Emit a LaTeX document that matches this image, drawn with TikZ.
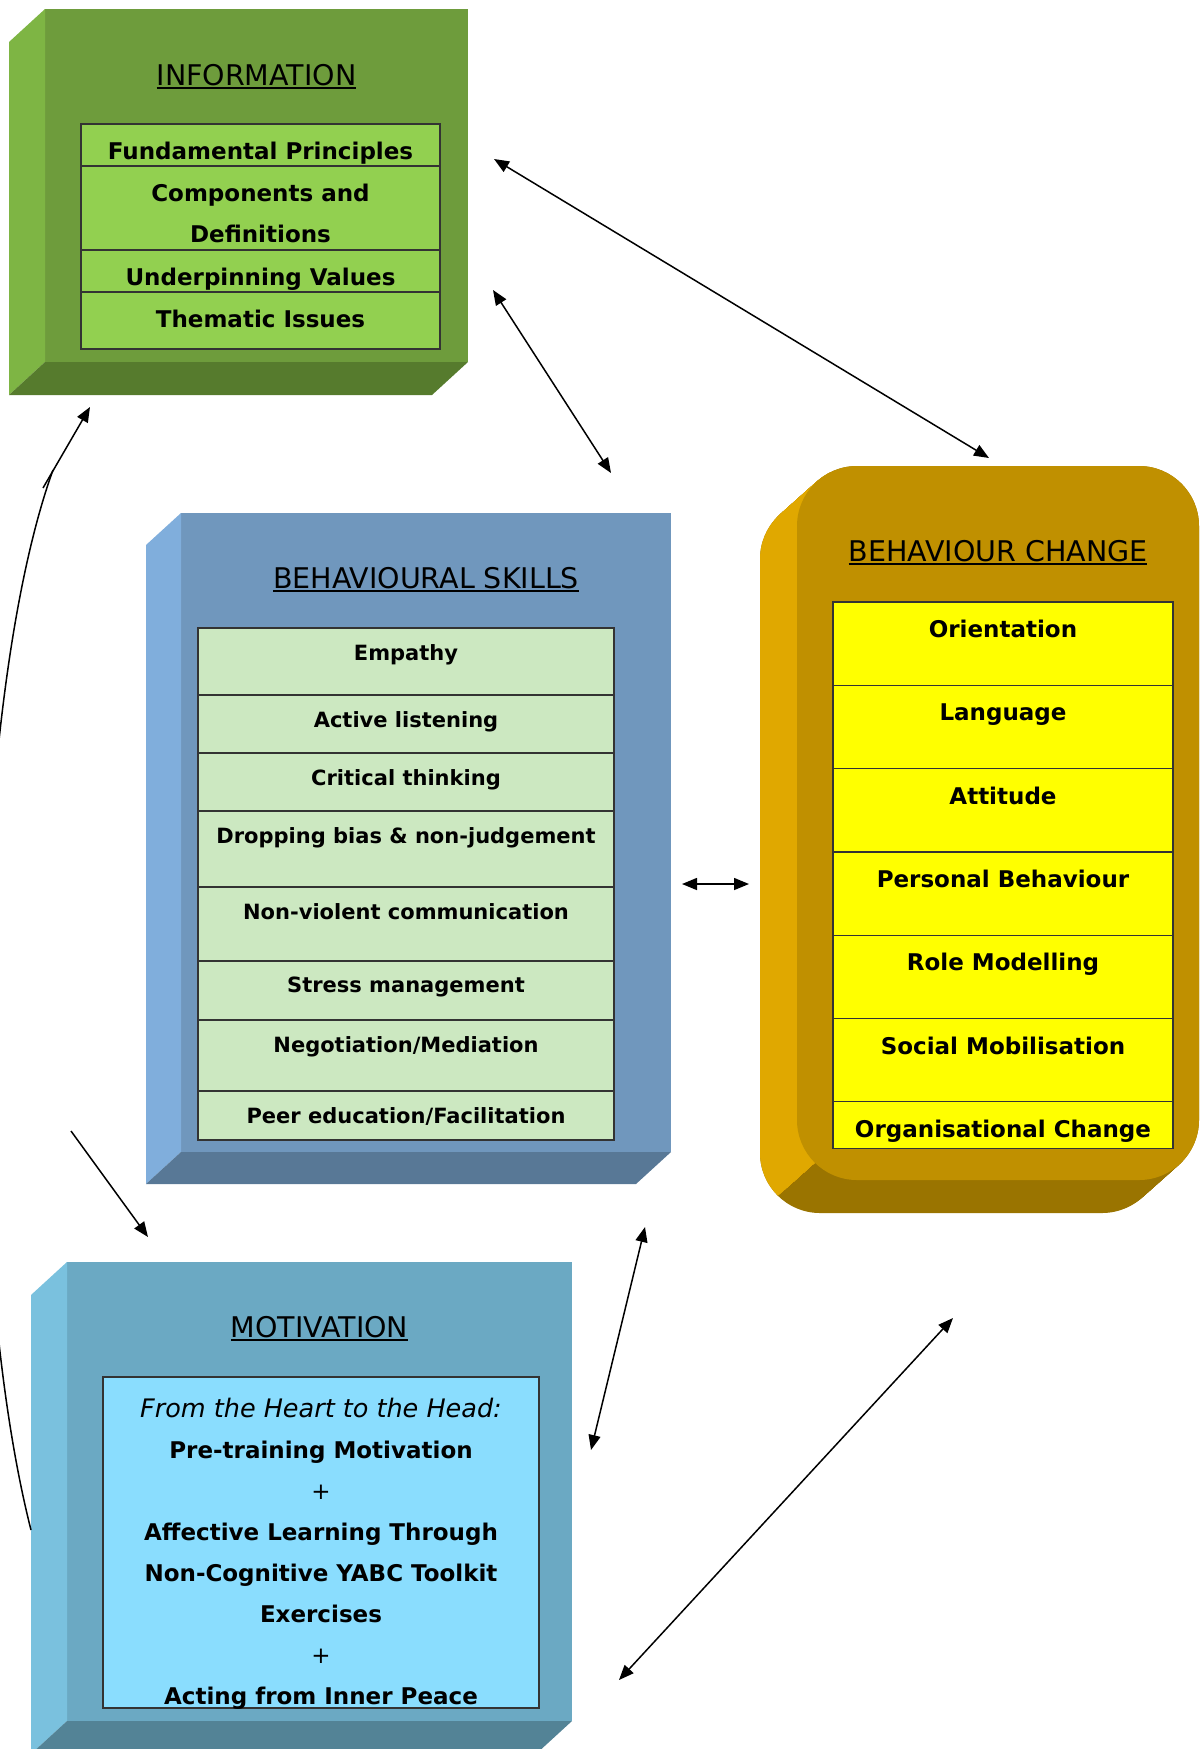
\documentclass[tikz,border=0pt]{standalone}
\usepackage{fontspec}
\setmainfont{DejaVu Sans}
\usetikzlibrary{arrows.meta,positioning,backgrounds}
\definecolor{infoFace}{HTML}{6E9C3C}
\definecolor{infoSide}{HTML}{7EB544}
\definecolor{infoBase}{HTML}{567B2D}
\definecolor{infoCell}{HTML}{92D050}
\definecolor{skillFace}{HTML}{7097BD}
\definecolor{skillSide}{HTML}{80AEDC}
\definecolor{skillBase}{HTML}{587896}
\definecolor{skillCell}{HTML}{CCE8C1}
\definecolor{changeFace}{HTML}{C09000}
\definecolor{changeSide}{HTML}{E0A800}
\definecolor{changeBase}{HTML}{9A7400}
\definecolor{changeCell}{HTML}{FFFF00}
\definecolor{motivFace}{HTML}{6BA9C3}
\definecolor{motivSide}{HTML}{7AC1DE}
\definecolor{motivBase}{HTML}{538396}
\definecolor{motivCell}{HTML}{8ADDFE}
\newsavebox{\headbox}
\newcommand{\ulhead}[1]{\sbox{\headbox}{#1}\usebox{\headbox}\llap{\rule[-4pt]{\wd\headbox}{1.8pt}}}

\begin{document}
\begin{tikzpicture}[
    x=1pt, y=-1pt,
    face/.style={inner sep=0pt, outer sep=0pt, anchor=north west},
    heading/.style={font=\fontsize{28.5}{32}\selectfont, inner sep=0pt, anchor=base},
    cell/.style={draw=black!80, line width=1.3pt, inner sep=0pt, outer sep=0pt, minimum width=#1},
    infotag/.style={anchor=north, inner sep=0pt, yshift=-18pt, align=center, font=\bfseries\fontsize{23}{41}\selectfont},
    skilltag/.style={anchor=north, inner sep=0pt, yshift=-16pt, align=center, font=\bfseries\fontsize{21}{24}\selectfont},
    motivtag/.style={anchor=north, inner sep=0pt, yshift=-21pt, align=center, font=\bfseries\fontsize{23}{41}\selectfont},
    link/.style={line width=1.5pt, {Triangle[length=15pt,width=12pt]}-{Triangle[length=15pt,width=12pt]}},
    pointer/.style={line width=1.5pt, -{Triangle[length=15pt,width=12pt]}},
    thread/.style={line width=1.5pt}
  ]
    \useasboundingbox (0,0) rectangle (1201,1749);

    % information block
    \node[face, fill=infoFace, minimum width=423pt, minimum height=353pt] (info) at (45,9) {};
    \fill[infoSide] (info.north west) -- ++(-36,33) -- ++(0,353) -- (info.south west) -- cycle;
    \fill[infoBase] (info.south west) -- ++(-36,33) -- ++(423,0) -- (info.south east) -- cycle;
    \node[heading] (infoHead) at (256.5,85) {\ulhead{INFORMATION}};
    \node[cell=359pt, fill=infoCell, minimum height=42pt, anchor=north west, label={[infotag]north:Fundamental Principles}] (info1) at (81,124) {};
    \node[cell=359pt, fill=infoCell, minimum height=84pt, below=0pt of info1, label={[infotag]north:Components and\\Definitions}] (info2) {};
    \node[cell=359pt, fill=infoCell, minimum height=42pt, below=0pt of info2, label={[infotag]north:Underpinning Values}] (info3) {};
    \node[cell=359pt, fill=infoCell, minimum height=57pt, below=0pt of info3, label={[infotag]north:Thematic Issues}] (info4) {};

    % behavioural skills block
    \node[face, fill=skillFace, minimum width=490pt, minimum height=639pt] (skill) at (181,513) {};
    \fill[skillSide] (skill.north west) -- ++(-35,32) -- ++(0,639) -- (skill.south west) -- cycle;
    \fill[skillBase] (skill.south west) -- ++(-35,32) -- ++(490,0) -- (skill.south east) -- cycle;
    \node[heading] (skillHead) at (426,588) {\ulhead{BEHAVIOURAL SKILLS}};
    \node[cell=416pt, fill=skillCell, minimum height=67pt, anchor=north west, label={[skilltag]north:Empathy}] (skill1) at (198,628) {};
    \node[cell=416pt, fill=skillCell, minimum height=58pt, below=0pt of skill1, label={[skilltag]north:Active listening}] (skill2) {};
    \node[cell=416pt, fill=skillCell, minimum height=58pt, below=0pt of skill2, label={[skilltag]north:Critical thinking}] (skill3) {};
    \node[cell=416pt, fill=skillCell, minimum height=76pt, below=0pt of skill3, label={[skilltag]north:Dropping bias \& non-judgement}] (skill4) {};
    \node[cell=416pt, fill=skillCell, minimum height=74pt, below=0pt of skill4, label={[skilltag]north:Non-violent communication}] (skill5) {};
    \node[cell=416pt, fill=skillCell, minimum height=59pt, below=0pt of skill5, label={[skilltag]north:Stress management}] (skill6) {};
    \node[cell=416pt, fill=skillCell, minimum height=71pt, below=0pt of skill6, label={[skilltag]north:Negotiation/Mediation}] (skill7) {};
    \node[cell=416pt, fill=skillCell, minimum height=49pt, below=0pt of skill7, label={[skilltag]north:Peer education/Facilitation}] (skill8) {};

    % behaviour change block
    \node[face, fill=changeFace, rounded corners=60pt, minimum width=402pt, minimum height=714pt] (chg) at (797,466) {};
    \begin{scope}[on background layer]
      \foreach \k in {0,...,37}
        \fill[changeBase, rounded corners=60pt] ([shift={(-\k,0.892*\k)}]chg.north west) rectangle ([shift={(-\k,0.892*\k)}]chg.south east);
      \begin{scope}
        \clip (600,400) -- (830,400) -- (830,1149) -- (600,1355) -- cycle;
        \foreach \k in {0,...,37}
          \fill[changeSide, rounded corners=60pt] ([shift={(-\k,0.892*\k)}]chg.north west) rectangle ([shift={(-\k,0.892*\k)}]chg.south east);
      \end{scope}
    \end{scope}
    \node[heading] (chgHead) at (998,561) {\ulhead{BEHAVIOUR CHANGE}};
    \node[cell=340pt, fill=changeCell, minimum height=83.3pt, anchor=north west, label={[infotag]north:Orientation}] (chg1) at (833,602) {};
    \node[cell=340pt, fill=changeCell, minimum height=83.3pt, below=0pt of chg1, label={[infotag]north:Language}] (chg2) {};
    \node[cell=340pt, fill=changeCell, minimum height=83.3pt, below=0pt of chg2, label={[infotag]north:Attitude}] (chg3) {};
    \node[cell=340pt, fill=changeCell, minimum height=83.3pt, below=0pt of chg3, label={[infotag]north:Personal Behaviour}] (chg4) {};
    \node[cell=340pt, fill=changeCell, minimum height=83.3pt, below=0pt of chg4, label={[infotag]north:Role Modelling}] (chg5) {};
    \node[cell=340pt, fill=changeCell, minimum height=83.3pt, below=0pt of chg5, label={[infotag]north:Social Mobilisation}] (chg6) {};
    \node[cell=340pt, fill=changeCell, minimum height=47pt, below=0pt of chg6, label={[infotag]north:Organisational Change}] (chg7) {};

    % motivation block
    \node[face, fill=motivFace, minimum width=505pt, minimum height=459pt] (motiv) at (67,1262) {};
    \fill[motivSide] (motiv.north west) -- ++(-36,33) -- ++(0,459) -- (motiv.south west) -- cycle;
    \fill[motivBase] (motiv.south west) -- ++(-36,33) -- ++(505,0) -- (motiv.south east) -- cycle;
    \node[heading] (motivHead) at (319.5,1337) {\ulhead{MOTIVATION}};
    \node[cell=436pt, fill=motivCell, minimum height=331pt, anchor=north west,
      label={[motivtag]north:{\mdseries\itshape\fontsize{25.5}{41}\selectfont From the Heart to the Head:}\\Pre-training Motivation\\{\mdseries +}\\Affective Learning Through\\Non-Cognitive YABC Toolkit\\Exercises\\{\mdseries +}\\Acting from Inner Peace}] (motivText) at (103,1377) {};

    % connector ends
    \coordinate (infoRight) at (494,159);
    \coordinate (chgTop) at (989,458);
    \coordinate (infoLow) at (493,290);
    \coordinate (skillTop) at (611,473);
    \coordinate (skillRight) at (682,884);
    \coordinate (chgLeft) at (749,884);
    \coordinate (skillLow) at (645,1227);
    \coordinate (motivRight) at (591,1450);
    \coordinate (chgLow) at (953,1318);
    \coordinate (motivCorner) at (619,1680);
    \coordinate (skillCorner) at (71,1131);
    \coordinate (motivTop) at (148,1237);
    \coordinate (loopStart) at (31,1530);
    \coordinate (loopEnd) at (53,470);
    \coordinate (loopFoot) at (43,488);
    \coordinate (infoTip) at (90,407);

    \draw[link] (infoRight) -- (chgTop);
    \draw[link] (infoLow) -- (skillTop);
    \draw[link] (skillRight) -- (chgLeft);
    \draw[link] (skillLow) -- (motivRight);
    \draw[link] (chgLow) -- (motivCorner);
    \draw[pointer] (skillCorner) -- (motivTop);
    \draw[thread] (loopStart) .. controls (-40,1250) and (-30,700) .. (loopEnd);
    \draw[pointer] (loopFoot) -- (infoTip);
  \end{tikzpicture}
\end{document}
